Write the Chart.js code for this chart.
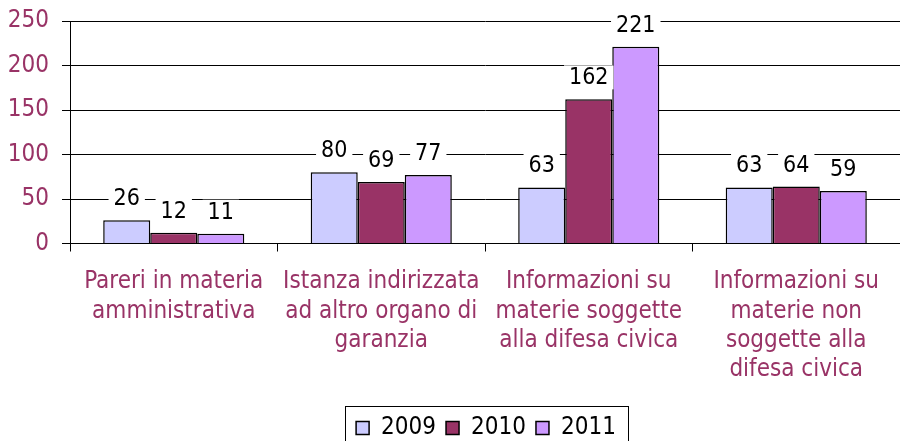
<!DOCTYPE html>
<html>
<head>
<meta charset="utf-8">
<script src="https://cdn.jsdelivr.net/npm/chart.js@4.4.1/dist/chart.umd.min.js"></script>
<style>
html,body{margin:0;padding:0;background:#fff;}
#wrap{position:relative;width:900px;height:441px;}
</style>
</head>
<body>
<div id="wrap"><canvas id="c" width="900" height="441"></canvas></div>
<script>
const categories = [
  ["Pareri in materia", "amministrativa"],
  ["Istanza indirizzata", "ad altro organo di", "garanzia"],
  ["Informazioni su", "materie soggette", "alla difesa civica"],
  ["Informazioni su", "materie non", "soggette alla", "difesa civica"]
];
const seriesNames = ["2009", "2010", "2011"];
const values2009 = [26, 80, 63, 63];
const values2010 = [12, 69, 162, 64];
const values2011 = [11, 77, 221, 59];
const yTicks = [0, 50, 100, 150, 200, 250];

const FONT = "'DejaVu Sans Condensed', 'DejaVu Sans', sans-serif";
const colors = ["#CCCCFF", "#993366", "#CC99FF"];
const allValues = [values2009, values2010, values2011];

const dataLabels = {
  id: 'dataLabels',
  afterDatasetsDraw(chart) {
    const ctx = chart.ctx;
    ctx.save();
    ctx.font = "23px " + FONT;
    ctx.textAlign = 'center';
    ctx.textBaseline = 'middle';
    chart.data.datasets.forEach((ds, di) => {
      const meta = chart.getDatasetMeta(di);
      meta.data.forEach((bar, i) => {
        const txt = String(ds.data[i]);
        const w = ctx.measureText(txt).width + 10;
        const h = 24;
        const cy = bar.y - 22;
        ctx.fillStyle = '#fff';
        ctx.fillRect(bar.x - w / 2, cy - h / 2, w, h);
        ctx.fillStyle = '#000';
        ctx.fillText(txt, bar.x, cy + 1);
      });
    });
    ctx.restore();
  }
};

const legendTweak = {
  id: 'legendTweak',
  afterLayout(chart) {
    const lg = chart.legend;
    lg.left += 36; lg.right += 36;
    lg.top += 9; lg.bottom += 9;
  },
  afterDraw(chart) {
    const lg = chart.legend;
    const hb = lg.legendHitBoxes;
    if (!hb || !hb.length) return;
    const ctx = chart.ctx;
    ctx.save();
    ctx.strokeStyle = '#000';
    ctx.lineWidth = 1;
    const l = Math.round(hb[0].left) - 10.5;
    const r = Math.round(hb[hb.length - 1].left + hb[hb.length - 1].width) + 12.5;
    ctx.strokeRect(l, 406.5, r - l, 40);
    ctx.restore();
  }
};

new Chart(document.getElementById('c'), {
  type: 'bar',
  data: {
    labels: categories,
    datasets: seriesNames.map((n, k) => ({
      label: n,
      data: allValues[k],
      backgroundColor: colors[k],
      borderColor: '#000',
      borderWidth: 1.5,
      borderSkipped: 'bottom',
      categoryPercentage: 0.68,
      barPercentage: 1.0
    }))
  },
  options: {
    responsive: false,
    animation: false,
    devicePixelRatio: 1,
    layout: { padding: { top: 21, left: 0, right: 0, bottom: 0 } },
    plugins: {
      legend: {
        position: 'bottom',
        labels: {
          boxWidth: 13, boxHeight: 13,
          color: '#000',
          padding: 10,
          font: { family: FONT, size: 24 }
        }
      },
      tooltip: { enabled: false }
    },
    scales: {
      x: {
        grid: { drawOnChartArea: false, drawTicks: true, tickLength: 8, color: '#000', offset: true },
        border: { color: '#000', width: 1 },
        ticks: {
          color: '#993366',
          font: { family: FONT, size: 24, lineHeight: 1.22 },
          maxRotation: 0, minRotation: 0, autoSkip: false, padding: 16
        },
        afterFit(scale) { scale.height = 153.5; }
      },
      y: {
        min: 0, max: 250,
        afterBuildTicks(scale) { scale.ticks = yTicks.map(v => ({ value: v })); },
        grid: { color: '#000', tickLength: 8, drawTicks: true },
        border: { color: '#000', width: 1 },
        ticks: {
          color: '#993366',
          font: { family: FONT, size: 24 },
          padding: 13
        },
        afterFit(scale) { scale.width = 70; scale.paddingTop = 0; scale.paddingBottom = 0; }
      }
    }
  },
  plugins: [dataLabels, legendTweak]
});
</script>
</body>
</html>
